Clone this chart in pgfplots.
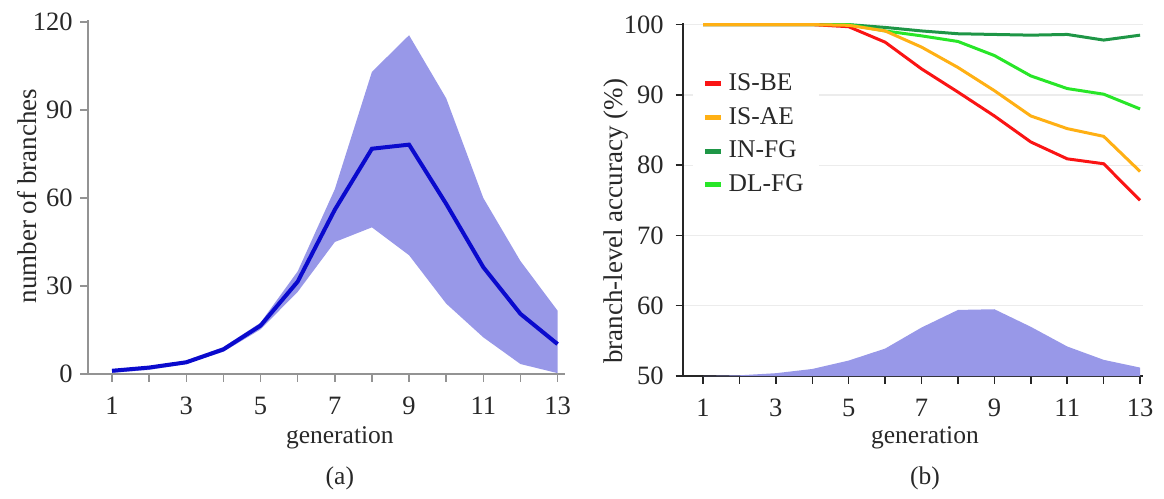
\documentclass[border=0pt]{standalone}
\usepackage{fontspec}
\setmainfont{Liberation Serif}
\usepackage{pgfplots}
\pgfplotsset{compat=1.18}

\definecolor{band}{RGB}{152,152,232}
\definecolor{meanblue}{RGB}{10,10,205}
\definecolor{isbe}{RGB}{250,20,20}
\definecolor{isae}{RGB}{255,176,20}
\definecolor{infg}{RGB}{30,150,70}
\definecolor{dlfg}{RGB}{40,230,40}
\definecolor{txt}{RGB}{40,40,40}

\pgfplotsset{
  every axis/.append style={
    font=\fontsize{10.2}{12}\selectfont,
    /pgf/number format/assume math mode=true,
    scale only axis,
    axis x line=bottom, axis y line=left,
    axis line style={-},
    tick align=outside,
    major tick length=3pt,
    every tick label/.append style={text=txt, font=\fontsize{10.6}{12}\selectfont},
    label style={text=txt},
    ylabel style={font=\fontsize{10.8}{12}\selectfont},
  },
}

\begin{document}
\begin{tikzpicture}

% (a) number of branches per generation: mean with spread band
\begin{axis}[
  at={(35.2pt,49.6pt)}, anchor=south west,
  width=190.8pt, height=141.5pt,
  xmin=0.353, xmax=13.2, ymin=0, ymax=120.6,
  xtick={1,...,13}, xticklabels={1,,3,,5,,7,,9,,11,,13},
  ytick={0,30,60,90,120},
  axis line style={gray!85, line width=0.8pt},
  tick style={gray!85, line width=0.6pt},
  xticklabel style={yshift=-2.6pt},
  yticklabel style={xshift=0.4pt},
  xlabel={generation},
  xlabel style={at={(axis description cs:0.528,-0.179)}, anchor=center},
  ylabel={number of branches},
  ylabel style={at={(axis description cs:-0.128,0.503)}, anchor=center},
  clip=false,
]
% band: upper edge left to right, then lower edge right to left
\addplot[band, draw=none, fill=band] coordinates {
  (1,1.2) (2,2.6) (3,4.6) (4,9.2) (5,17.5) (6,35) (7,63) (8,103) (9,115.5)
  (10,94) (11,60) (12,38.5) (13,21.6)
  (13,0.3) (12,3.4) (11,12.5) (10,24) (9,40.5) (8,50) (7,45) (6,28)
  (5,15.2) (4,7.6) (3,3.4) (2,1.4) (1,0.4)} -- cycle;
\addplot[meanblue, line width=1.6pt] coordinates {
  (1,1.1) (2,2.2) (3,4) (4,8.4) (5,16.5) (6,31.5) (7,56) (8,76.8) (9,78.2)
  (10,58) (11,36.4) (12,20.5) (13,10.2)};
\node[text=txt] at (axis description cs:0.528,-0.295) {(a)};
\end{axis}

% (b) branch-level accuracy per generation
\begin{axis}[
  at={(273.2pt,48.8pt)}, anchor=south west,
  width=184pt, height=141.4pt,
  xmin=0.451, xmax=13.08, ymin=50, ymax=100.3,
  xtick={1,...,13}, xticklabels={1,,3,,5,,7,,9,,11,,13},
  ytick={50,60,...,100},
  ymajorgrids,
  grid style={gray!15, line width=0.5pt},
  axis line style={black!85, line width=0.8pt},
  tick style={black!85, line width=0.6pt},
  xticklabel style={yshift=-2.6pt},
  yticklabel style={xshift=-1.2pt},
  xlabel={generation},
  xlabel style={at={(axis description cs:0.526,-0.176)}, anchor=center},
  ylabel={branch-level accuracy (\%)},
  ylabel style={at={(axis description cs:-0.146,0.4375)}, anchor=center},
  legend style={at={(axis description cs:0.02,0.885)}, anchor=north west,
    draw=none, fill=white, row sep=1.2pt, inner xsep=4pt,
    font=\fontsize{10.2}{12}\selectfont, text=txt},
  legend cell align=left,
  legend image code/.code={\draw[#1, line width=2pt] (0pt,0pt) -- (6.4pt,0pt);},
  clip=false,
]
\addlegendimage{isbe}\addlegendentry{IS-BE}
\addlegendimage{isae}\addlegendentry{IS-AE}
\addlegendimage{infg}\addlegendentry{IN-FG}
\addlegendimage{dlfg}\addlegendentry{DL-FG}
\addplot[band, draw=none, fill=band, forget plot] coordinates {
  (1,50) (2,50.1) (3,50.4) (4,51.0) (5,52.2) (6,53.9) (7,56.9) (8,59.4) (9,59.5)
  (10,57.0) (11,54.2) (12,52.3) (13,51.2)} \closedcycle;
\addplot[infg, line width=1.2pt, forget plot] coordinates {
  (1,100) (2,100) (3,100) (4,100) (5,100) (6,99.6) (7,99.1) (8,98.7) (9,98.6)
  (10,98.5) (11,98.6) (12,97.8) (13,98.5)};
\addplot[dlfg, line width=1.2pt, forget plot] coordinates {
  (1,100) (2,100) (3,100) (4,100) (5,100) (6,99.1) (7,98.4) (8,97.6) (9,95.6)
  (10,92.7) (11,90.9) (12,90.1) (13,88.0)};
\addplot[isbe, line width=1.2pt, forget plot] coordinates {
  (1,100) (2,100) (3,100) (4,100) (5,99.7) (6,97.5) (7,93.7) (8,90.4) (9,87.0)
  (10,83.3) (11,80.9) (12,80.2) (13,75.0)};
\addplot[isae, line width=1.2pt, forget plot] coordinates {
  (1,100) (2,100) (3,100) (4,100) (5,99.9) (6,99.1) (7,96.8) (8,93.9) (9,90.6)
  (10,87.0) (11,85.2) (12,84.1) (13,79.1)};
\node[text=txt] at (axis description cs:0.526,-0.29) {(b)};
\end{axis}

% page frame
\path (0,0) rectangle (465.6pt,199.2pt);
\end{tikzpicture}
\end{document}
